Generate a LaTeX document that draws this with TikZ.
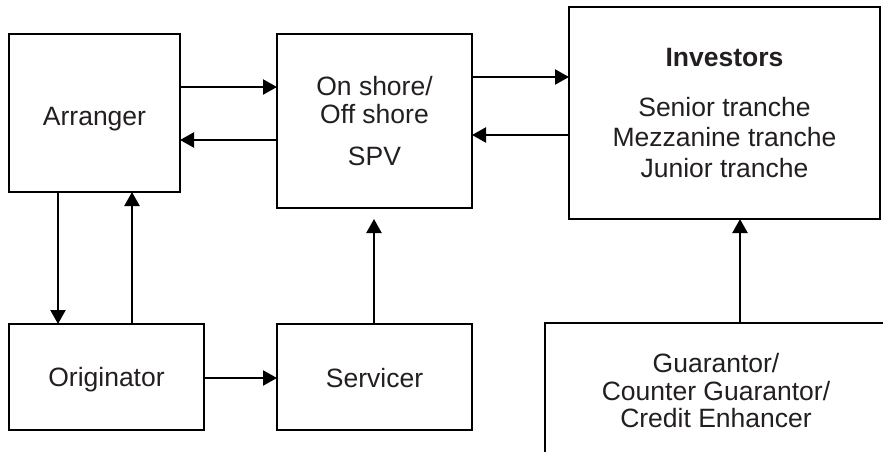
\documentclass[tikz,border=0pt]{standalone}
\usepackage{fontspec}
\setmainfont{Liberation Sans}
\usetikzlibrary{arrows.meta}
\definecolor{txt}{HTML}{231F20}
\begin{document}
\begin{tikzpicture}[x=1pt,y=-1pt,
  box/.style={draw=black, line width=2.2pt, inner sep=0pt, outer sep=0pt, align=center, text=txt,
    font=\fontsize{26.5}{29}\selectfont},
  plainbox/.style={inner sep=0pt, outer sep=0pt, align=center, text=txt,
    font=\fontsize{26.5}{29}\selectfont},
  conn/.style={line width=2.2pt, -{Triangle[length=14pt,width=15pt]}},
  edge/.style={line width=2.2pt}]
\useasboundingbox (0,0) rectangle (883,452);
\fill[white] (0,0) rectangle (883,452);
% nodes
\node[box, minimum width=171pt, minimum height=158pt] (arr) at (94.5,113) {\raisebox{-6pt}[\height][\depth]{Arranger}};
\node[box, minimum width=195pt, minimum height=174pt, font=\fontsize{26.5}{28}\selectfont] (spv) at (374.5,121) {On shore/\\Off shore\\[14pt]SPV};
\node[box, minimum width=311pt, minimum height=212pt, font=\fontsize{26.5}{30.5}\selectfont] (inv) at (724.5,113) {\textbf{Investors}\\[19pt]Senior tranche\\Mezzanine tranche\\Junior tranche};
\node[box, minimum width=195pt, minimum height=106pt] (orig) at (106.5,377) {\raisebox{-3pt}[\height][\depth]{Originator}};
\node[box, minimum width=195pt, minimum height=106pt] (serv) at (374.5,377) {\raisebox{-1pt}[\height][\depth]{Servicer}};
\node[plainbox, minimum width=342pt, minimum height=136pt, font=\fontsize{26.5}{27.5}\selectfont] (guar) at (716,391) {Guarantor/\\Counter Guarantor/\\Credit Enhancer};
\draw[edge] (guar.south west) -- (guar.north west) -- (guar.north east);
% levels
\coordinate (yA) at (0,87);
\coordinate (yB) at (0,140);
\coordinate (yC) at (0,77);
\coordinate (yD) at (0,135);
\coordinate (yE) at (0,378);
\coordinate (xF) at (58,0);
\coordinate (xG) at (132,0);
\coordinate (xH) at (374,0);
\coordinate (xI) at (740,0);
% connectors
\draw[conn] (arr.east |- yA) -- (spv.west |- yA);
\draw[conn] (spv.west |- yB) -- (arr.east |- yB);
\draw[conn] (spv.east |- yC) -- (inv.west |- yC);
\draw[conn] (inv.west |- yD) -- (spv.east |- yD);
\draw[conn] (xF |- arr.south) -- (xF |- orig.north);
\draw[conn] (xG |- orig.north) -- (xG |- arr.south);
\draw[conn] (orig.east |- yE) -- (serv.west |- yE);
\draw[conn, shorten >=11pt] (xH |- serv.north) -- (xH |- spv.south);
\draw[conn] (xI |- guar.north) -- (xI |- inv.south);
\end{tikzpicture}
\end{document}
